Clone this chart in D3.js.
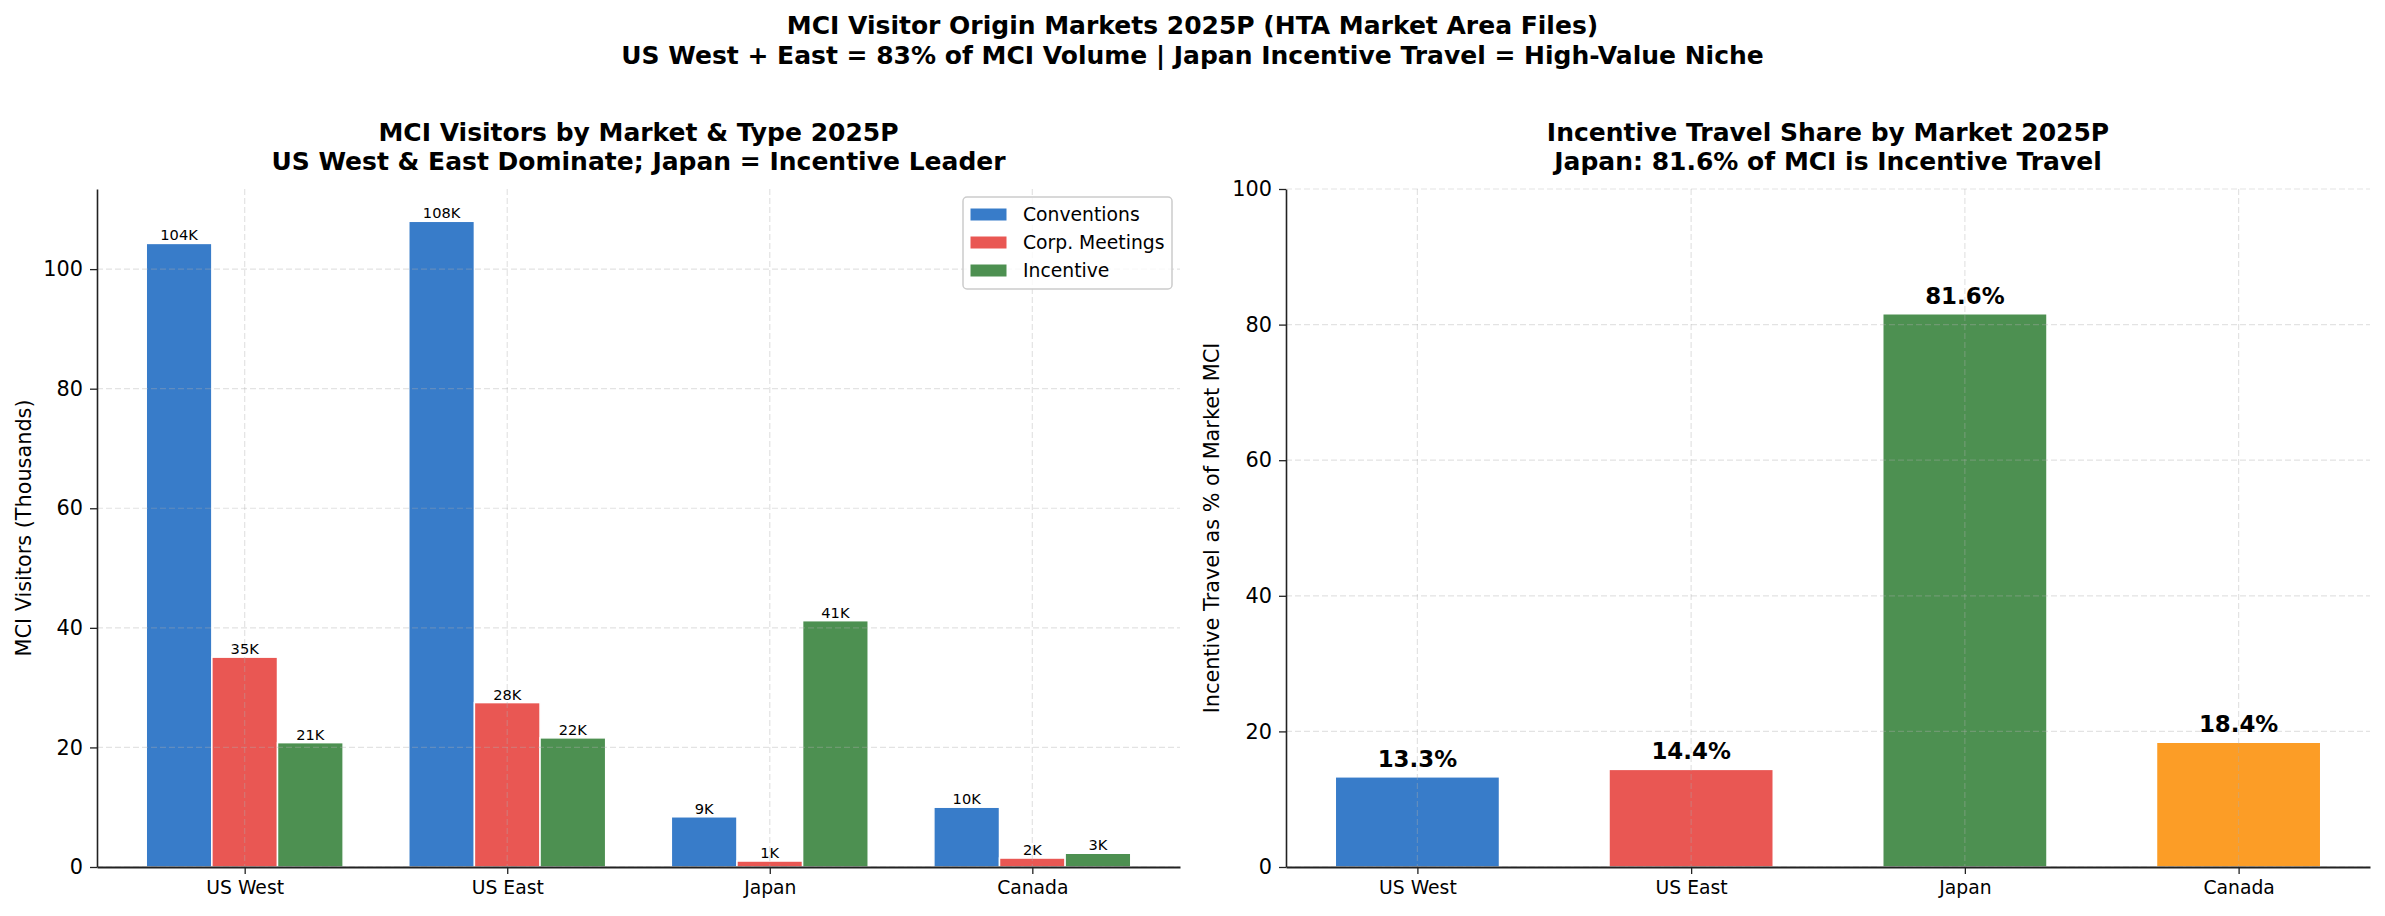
<!DOCTYPE html>
<html>
<head>
<meta charset="utf-8" />
<title>MCI Visitor Origin Markets 2025P</title>
<script src="https://d3js.org/d3.v7.min.js"></script>
<style>
  body { margin: 0; background: #fff; font-family: "DejaVu Sans", sans-serif; }
  svg { display: block; }
  .tick text { fill: #000; }
</style>
</head>
<body>
<svg width="2385" height="916"></svg>
<script>
// ---- data ----
const markets = ["US West", "US East", "Japan", "Canada"];
const seriesNames = ["Conventions", "Corp. Meetings", "Incentive"];
const conventions = [104.3, 108.0, 8.4, 10.0];
const corpMeetings = [35.1, 27.5, 1.0, 1.5];
const incentive = [20.8, 21.6, 41.2, 2.3];
const conventionsLabels = ["104K", "108K", "9K", "10K"];
const corpMeetingsLabels = ["35K", "28K", "1K", "2K"];
const incentiveLabels = ["21K", "22K", "41K", "3K"];
const incentiveShare = [13.3, 14.4, 81.6, 18.4];
const leftTicks = [0, 20, 40, 60, 80, 100];
const rightTicks = [0, 20, 40, 60, 80, 100];

const colors = ["#1565C0", "#E53935", "#2E7D32"];
const shareColors = ["#1565C0", "#E53935", "#2E7D32", "#FB8C00"];

const svg = d3.select("svg");
const font = "DejaVu Sans, sans-serif";

// ---- titles ----
svg.append("text").attr("x", 1192.5).attr("y", 34)
  .attr("text-anchor", "middle").attr("font-size", 25).attr("font-weight", "bold")
  .text("MCI Visitor Origin Markets 2025P (HTA Market Area Files)");
svg.append("text").attr("x", 1192.5).attr("y", 64)
  .attr("text-anchor", "middle").attr("font-size", 25).attr("font-weight", "bold")
  .text("US West + East = 83% of MCI Volume | Japan Incentive Travel = High-Value Niche");

const plotTop = 189, plotBottom = 867;

function gridAndAxes(g, x, y, xTicks, yTicks, x0, x1) {
  // grid (drawn over bars, semi transparent like the original)
  const grid = g.append("g").attr("stroke", "#b0b0b0").attr("stroke-opacity", 0.35)
    .attr("stroke-width", 1.2).attr("stroke-dasharray", "6,3");
  grid.selectAll("line.h").data(yTicks).join("line")
    .attr("x1", x0).attr("x2", x1).attr("y1", d => y(d)).attr("y2", d => y(d));
  grid.selectAll("line.v").data(xTicks).join("line")
    .attr("x1", d => x(d)).attr("x2", d => x(d)).attr("y1", plotTop).attr("y2", plotBottom);

  const xAxis = g.append("g").attr("transform", `translate(0,${plotBottom})`)
    .call(d3.axisBottom(x).tickValues(xTicks).tickFormat(i => markets[i])
      .tickSize(7).tickSizeOuter(0).tickPadding(7));
  xAxis.selectAll("text").attr("font-size", 18.75).attr("font-family", font);
  xAxis.selectAll("line").attr("stroke", "#222").attr("stroke-width", 1.3);
  xAxis.select(".domain").attr("stroke", "#222").attr("stroke-width", 2);

  const yAxis = g.append("g").attr("transform", `translate(${x0},0)`)
    .call(d3.axisLeft(y).tickValues(yTicks).tickSize(7).tickSizeOuter(0).tickPadding(7));
  yAxis.selectAll("text").attr("font-size", 20.8).attr("font-family", font);
  yAxis.selectAll("line").attr("stroke", "#222").attr("stroke-width", 1.3);
  yAxis.select(".domain").attr("stroke", "#222").attr("stroke-width", 1.6);
}

// ---- left panel: grouped bars ----
const lx0 = 97, lx1 = 1180;
const xL = d3.scaleLinear().domain([-0.5625, 3.5625]).range([lx0, lx1]);
const yL = d3.scaleLinear().domain([0, 113.4]).range([plotBottom, plotTop]);
const barW = 0.25;
const series = [
  { name: seriesNames[0], values: conventions, labels: conventionsLabels, color: colors[0], off: -barW },
  { name: seriesNames[1], values: corpMeetings, labels: corpMeetingsLabels, color: colors[1], off: 0 },
  { name: seriesNames[2], values: incentive, labels: incentiveLabels, color: colors[2], off: barW }
];

const gL = svg.append("g");
series.forEach(s => {
  gL.append("g").selectAll("rect").data(s.values).join("rect")
    .attr("x", (d, i) => xL(i + s.off - barW / 2))
    .attr("width", xL(barW) - xL(0))
    .attr("y", d => yL(d))
    .attr("height", d => yL(0) - yL(d))
    .attr("fill", s.color).attr("fill-opacity", 0.85)
    .attr("stroke", "#fff").attr("stroke-width", 1.5);
});
gridAndAxes(gL, xL, yL, d3.range(markets.length), leftTicks, lx0, lx1);
series.forEach(s => {
  gL.append("g").selectAll("text").data(s.values).join("text")
    .attr("x", (d, i) => xL(i + s.off))
    .attr("y", d => yL(d) - 3)
    .attr("text-anchor", "middle").attr("font-size", 14.6)
    .text((d, i) => s.labels[i]);
});

svg.append("text").attr("transform", `translate(24,${(plotTop + plotBottom) / 2}) rotate(-90)`)
  .attr("text-anchor", "middle").attr("dominant-baseline", "central").attr("font-size", 20.8)
  .text("MCI Visitors (Thousands)");
svg.append("text").attr("x", (lx0 + lx1) / 2).attr("y", 141)
  .attr("text-anchor", "middle").attr("font-size", 25).attr("font-weight", "bold")
  .text("MCI Visitors by Market & Type 2025P");
svg.append("text").attr("x", (lx0 + lx1) / 2).attr("y", 170)
  .attr("text-anchor", "middle").attr("font-size", 25).attr("font-weight", "bold")
  .text("US West & East Dominate; Japan = Incentive Leader");

// legend
const leg = svg.append("g");
leg.append("rect").attr("x", 963).attr("y", 197).attr("width", 209).attr("height", 92)
  .attr("rx", 4).attr("fill", "#fff").attr("fill-opacity", 0.8)
  .attr("stroke", "#cccccc").attr("stroke-width", 1.5);
series.forEach((s, i) => {
  const cy = 214.5 + i * 28;
  leg.append("rect").attr("x", 970).attr("y", cy - 6.5).attr("width", 37).attr("height", 13)
    .attr("fill", s.color).attr("fill-opacity", 0.85).attr("stroke", "#fff");
  leg.append("text").attr("x", 1023).attr("y", cy).attr("dominant-baseline", "central")
    .attr("font-size", 18.75).text(s.name);
});

// ---- right panel: incentive share ----
const rx0 = 1286, rx1 = 2370;
const xR = d3.scaleLinear().domain([-0.48, 3.48]).range([rx0, rx1]);
const yR = d3.scaleLinear().domain([0, 100]).range([plotBottom, plotTop]);
const shareW = 0.6;
const gR = svg.append("g");
gR.selectAll("rect").data(incentiveShare).join("rect")
  .attr("x", (d, i) => xR(i - shareW / 2))
  .attr("width", xR(shareW) - xR(0))
  .attr("y", d => yR(d))
  .attr("height", d => yR(0) - yR(d))
  .attr("fill", (d, i) => shareColors[i]).attr("fill-opacity", 0.85)
  .attr("stroke", "#fff").attr("stroke-width", 1.5);
gridAndAxes(gR, xR, yR, d3.range(markets.length), rightTicks, rx0, rx1);
gR.append("g").selectAll("text").data(incentiveShare).join("text")
  .attr("x", (d, i) => xR(i)).attr("y", d => yR(d) - 10)
  .attr("text-anchor", "middle").attr("font-size", 22.9).attr("font-weight", "bold")
  .text(d => d.toFixed(1) + "%");

svg.append("text").attr("transform", `translate(1212,${(plotTop + plotBottom) / 2}) rotate(-90)`)
  .attr("text-anchor", "middle").attr("dominant-baseline", "central").attr("font-size", 20.8)
  .text("Incentive Travel as % of Market MCI");
svg.append("text").attr("x", (rx0 + rx1) / 2).attr("y", 141)
  .attr("text-anchor", "middle").attr("font-size", 25).attr("font-weight", "bold")
  .text("Incentive Travel Share by Market 2025P");
svg.append("text").attr("x", (rx0 + rx1) / 2).attr("y", 170)
  .attr("text-anchor", "middle").attr("font-size", 25).attr("font-weight", "bold")
  .text("Japan: 81.6% of MCI is Incentive Travel");
</script>
</body>
</html>
